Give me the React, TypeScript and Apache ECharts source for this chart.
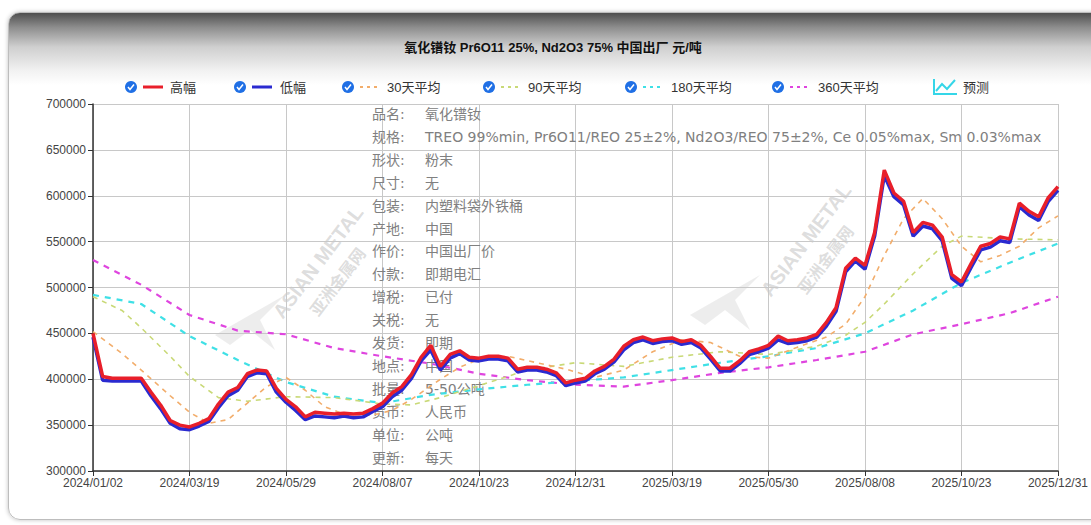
import React, { useEffect, useRef } from "react";
import * as echarts from "echarts";

const titleText = "氧化镨钕 Pr6O11 25%, Nd2O3 75% 中国出厂 元/吨";

const tickLabels = [
  "2024/01/02", "2024/03/19", "2024/05/29", "2024/08/07", "2024/10/23", "2024/12/31",
  "2025/03/19", "2025/05/30", "2025/08/08", "2025/10/23", "2025/12/31",
];

// 高幅 (one value per 1/10 of a label interval)
const highValues = [
  450000, 403000, 401000, 401000, 401000, 401000, 386000, 372000, 355000, 350000,
  348000, 352000, 357000, 373000, 386000, 391000, 406000, 410000, 409000, 390000,
  378000, 370000, 359000, 364000, 363000, 362000, 363000, 362000, 363000, 368000,
  374000, 385000, 392000, 405000, 424000, 437000, 414000, 427000, 431000, 424000,
  423000, 425000, 425000, 423000, 411000, 413000, 413000, 411000, 407000, 396000,
  399000, 401000, 409000, 414000, 422000, 436000, 443000, 446000, 442000, 444000,
  445000, 441000, 443000, 437000, 425000, 412000, 412000, 420000, 430000, 433000,
  437000, 447000, 442000, 443000, 445000, 449000, 462000, 478000, 521000, 532000,
  524000, 560000, 628000, 603000, 594000, 560000, 571000, 568000, 555000, 514000,
  506000, 526000, 545000, 548000, 555000, 553000, 592000, 583000, 577000, 598000, 610000,
];

// 低幅
const lowValues = [
  446000, 399000, 398000, 398000, 398000, 398000, 382000, 368000, 352000, 346000,
  345000, 349000, 354000, 369000, 382000, 388000, 403000, 407000, 406000, 386000,
  375000, 366000, 356000, 360000, 359000, 358000, 360000, 358000, 359000, 365000,
  370000, 381000, 388000, 401000, 420000, 432000, 410000, 423000, 428000, 421000,
  420000, 422000, 422000, 420000, 408000, 410000, 410000, 408000, 404000, 393000,
  396000, 398000, 406000, 411000, 419000, 432000, 440000, 443000, 439000, 441000,
  442000, 438000, 440000, 434000, 422000, 409000, 409000, 417000, 427000, 430000,
  434000, 443000, 439000, 440000, 442000, 446000, 458000, 474000, 517000, 529000,
  520000, 556000, 622000, 599000, 590000, 556000, 567000, 564000, 551000, 510000,
  502000, 522000, 541000, 544000, 551000, 549000, 588000, 579000, 573000, 594000, 606000,
];

// moving averages: [position, value]
const ma30 = [
  [0, 452000], [3, 428000], [5, 410000], [8, 382000], [10, 364000], [12, 352000], [14, 356000],
  [16, 374000], [18, 392000], [20, 402000], [22, 388000], [24, 370000], [26, 362000], [29, 361000],
  [31, 366000], [33, 378000], [36, 400000], [38, 413000], [40, 422000], [43, 425000], [46, 418000],
  [49, 411000], [52, 402000], [55, 410000], [58, 430000], [61, 443000], [64, 440000], [67, 425000],
  [70, 423000], [73, 435000], [76, 446000], [78, 460000], [80, 490000], [82, 535000], [84, 575000],
  [86, 597000], [88, 575000], [90, 545000], [92, 528000], [94, 535000], [96, 545000], [98, 565000],
  [100, 578000],
];
const ma90 = [
  [0, 490000], [3, 475000], [5, 456000], [8, 425000], [10, 403000], [13, 380000], [16, 376000],
  [20, 381000], [25, 380000], [30, 373000], [33, 372000], [36, 380000], [40, 393000], [45, 410000],
  [50, 418000], [55, 414000], [60, 424000], [65, 430000], [70, 427000], [75, 436000], [78, 448000],
  [80, 462000], [82, 482000], [85, 515000], [88, 545000], [90, 556000], [95, 553000], [100, 552000],
];
const ma180 = [
  [0, 492000], [5, 482000], [10, 447000], [15, 421000], [20, 397000], [25, 381000], [30, 374000],
  [35, 383000], [40, 389000], [45, 394000], [50, 398000], [55, 402000], [60, 410000], [65, 418000],
  [70, 425000], [75, 434000], [80, 450000], [85, 475000], [90, 505000], [95, 527000], [100, 548000],
];
const ma360 = [
  [0, 530000], [5, 503000], [10, 470000], [15, 453000], [20, 449000], [25, 434000], [30, 425000],
  [35, 417000], [40, 406000], [45, 399000], [50, 394000], [55, 392000], [60, 399000], [65, 407000],
  [70, 413000], [75, 421000], [80, 430000], [85, 449000], [90, 460000], [95, 472000], [100, 490000],
];

const infoLabels = ["品名:", "规格:", "形状:", "尺寸:", "包装:", "产地:", "作价:", "付款:", "增税:", "关税:", "发货:", "地点:", "批量:", "货币:", "单位:", "更新:"];
const infoValues = [
  "氧化镨钕",
  "TREO 99%min, Pr6O11/REO 25±2%, Nd2O3/REO 75±2%, Ce 0.05%max, Sm 0.03%max",
  "粉末", "无", "内塑料袋外铁桶", "中国", "中国出厂价", "即期电汇", "已付", "无", "即期", "中国",
  "5-50公吨", "人民币", "公吨", "每天",
];

const legendNames = ["高幅", "低幅", "30天平均", "90天平均", "180天平均", "360天平均", "预测"];

const FONT = '"Liberation Sans", "Noto Sans CJK SC", sans-serif';
const INFO_FONT = '"DejaVu Sans", "Noto Sans CJK SC", sans-serif';
const C_HIGH = "#e81f2a";
const C_LOW = "#2a2ad0";
const C_30 = "#f2ad6b";
const C_90 = "#c9d977";
const C_180 = "#3fe0e6";
const C_360 = "#df45df";

function legendItem(cx: number, lineFrom: number, textX: number, color: string, dashed: boolean, name: string) {
  const y = 87;
  return [
    { type: "circle", shape: { cx, cy: y, r: 6 }, style: { fill: "#1f6fe5" } },
    {
      type: "polyline",
      shape: { points: [[cx - 3, y], [cx - 1, y + 2.5], [cx + 3, y - 2.5]] },
      style: { stroke: "#fff", lineWidth: 1.5, fill: "none" },
    },
    {
      type: "line",
      shape: { x1: lineFrom, y1: y, x2: lineFrom + 20, y2: y },
      style: { stroke: color, lineWidth: dashed ? 2 : 3, lineDash: dashed ? [3, 4] : null },
    },
    {
      type: "text",
      x: textX,
      y,
      style: { text: name, font: `13px ${FONT}`, fill: "#333", textVerticalAlign: "middle" },
    },
  ];
}

export default function App() {
  const ref = useRef<HTMLDivElement>(null);
  useEffect(() => {
    if (!ref.current) return;
    const chart = echarts.init(ref.current, null, { renderer: "svg" });

    const graphics: any[] = [];
    graphics.push({
      type: "text",
      x: 553,
      y: 47,
      style: { text: titleText, font: `bold 13px ${FONT}`, fill: "#111", textAlign: "center", textVerticalAlign: "middle" },
    });
    graphics.push(...legendItem(131, 143, 170, C_HIGH, false, legendNames[0]));
    graphics.push(...legendItem(240, 252, 280, C_LOW, false, legendNames[1]));
    graphics.push(...legendItem(348, 360, 387, C_30, true, legendNames[2]));
    graphics.push(...legendItem(489, 501, 528, C_90, true, legendNames[3]));
    graphics.push(...legendItem(631, 643, 671, C_180, true, legendNames[4]));
    graphics.push(...legendItem(778, 790, 818, C_360, true, legendNames[5]));
    graphics.push({
      type: "polyline",
      shape: { points: [[934, 79], [934, 94], [957, 94]] },
      style: { stroke: "#35d6e8", lineWidth: 2, fill: "none" },
    });
    graphics.push({
      type: "polyline",
      shape: { points: [[936, 91], [942, 84], [947, 89], [955, 80]] },
      style: { stroke: "#35d6e8", lineWidth: 2, fill: "none" },
    });
    graphics.push({
      type: "text",
      x: 963,
      y: 87,
      style: { text: legendNames[6], font: `13px ${FONT}`, fill: "#333", textVerticalAlign: "middle" },
    });

    // watermarks
    const wm = (x: number, y: number, text: string, size: number) => ({
      type: "text",
      x,
      y,
      rotation: 0.92,
      style: { text, font: `bold ${size}px ${FONT}`, fill: "rgba(180,180,180,0.45)", textAlign: "center", textVerticalAlign: "middle" },
      z: 0,
    });
    graphics.push(wm(318, 262, "ASIAN METAL", 20));
    graphics.push(wm(338, 282, "亚洲金属网", 16));
    graphics.push(wm(806, 240, "ASIAN METAL", 20));
    graphics.push(wm(826, 260, "亚洲金属网", 16));
    const logo = (ox: number, oy: number) => ({
      type: "polygon",
      shape: { points: [[ox, oy + 40], [ox + 70, oy], [ox + 45, oy + 25], [ox + 60, oy + 55], [ox + 35, oy + 35], [ox + 15, oy + 50]] },
      style: { fill: "rgba(195,195,195,0.3)" },
      z: 0,
    });
    graphics.push(logo(215, 295));
    graphics.push(logo(690, 275));

    infoLabels.forEach((lab, i) => {
      const y = 114 + i * 22.9;
      graphics.push({ type: "text", x: 372, y, style: { text: lab, font: `14px ${INFO_FONT}`, fill: "#808080", textVerticalAlign: "middle" }, z: 1 });
      graphics.push({ type: "text", x: 425, y, style: { text: infoValues[i], font: `14px ${INFO_FONT}`, fill: "#808080", textVerticalAlign: "middle" }, z: 1 });
    });

    const maSeries = (name: string, data: number[][], color: string, width: number, dash: number[]) => ({
      type: "line",
      name,
      data,
      symbol: "none",
      lineStyle: { color, width, type: dash },
      z: 2,
    });

    chart.setOption({
      animation: false,
      grid: { left: 93, right: 30, top: 104, bottom: 54 },
      xAxis: {
        type: "value",
        min: 0,
        max: 100,
        interval: 10,
        axisLine: { show: true, lineStyle: { color: "#333", width: 1.5 } },
        axisTick: { show: true, lineStyle: { color: "#333" }, length: 5 },
        axisLabel: {
          color: "#444",
          fontSize: 12,
          fontFamily: FONT,
          margin: 6,
          formatter: (v: number) => tickLabels[Math.round(v / 10)] ?? "",
        },
        splitLine: { show: true, lineStyle: { color: "#c8c8c8", width: 1 } },
      },
      yAxis: {
        type: "value",
        min: 300000,
        max: 700000,
        interval: 50000,
        axisLine: { show: true, lineStyle: { color: "#333", width: 1.5 } },
        axisTick: { show: true, lineStyle: { color: "#333" }, length: 5 },
        axisLabel: { color: "#444", fontSize: 12, fontFamily: FONT, margin: 7, formatter: (v: number) => String(v) },
        splitLine: { show: true, lineStyle: { color: "#c8c8c8", width: 1 } },
      },
      graphic: graphics,
      series: [
        maSeries("360天平均", ma360, C_360, 2.2, [6, 6]),
        maSeries("180天平均", ma180, C_180, 2.2, [6, 6]),
        maSeries("90天平均", ma90, C_90, 1.6, [5, 5]),
        maSeries("30天平均", ma30, C_30, 1.6, [5, 5]),
        {
          type: "line",
          name: "低幅",
          data: lowValues.map((v, i) => [i, v]),
          symbol: "none",
          lineStyle: { color: C_LOW, width: 3.5 },
          z: 3,
        },
        {
          type: "line",
          name: "高幅",
          data: highValues.map((v, i) => [i, v]),
          symbol: "none",
          lineStyle: { color: C_HIGH, width: 3.5 },
          z: 4,
        },
      ],
    });
    return () => chart.dispose();
  }, []);

  return (
    <div style={{ position: "fixed", left: 0, top: 0, width: 1091, height: 525, background: "#fff", overflow: "hidden" }}>
      <div
        style={{
          position: "absolute",
          left: 8,
          top: 12,
          width: 1110,
          height: 506,
          borderRadius: 12,
          border: "1px solid #bdbdbd",
          boxShadow: "0 0 4px rgba(0,0,0,0.25)",
          background:
            "linear-gradient(to bottom, #4e4e4e 0px, #8c8c8c 14px, #cfcfcf 34px, #f2f2f2 58px, #ffffff 72px, #ffffff 100%)",
        }}
      />
      <div ref={ref} style={{ position: "absolute", left: 0, top: 0, width: 1091, height: 525 }} />
    </div>
  );
}
